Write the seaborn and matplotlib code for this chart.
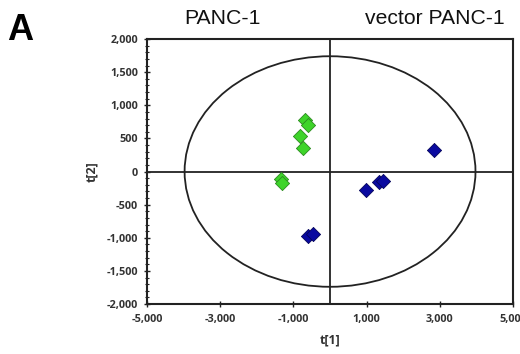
import numpy as np
import pandas as pd
import matplotlib
matplotlib.use("Agg")
import matplotlib.pyplot as plt
import seaborn as sns
from matplotlib.patches import Ellipse
from matplotlib.ticker import FuncFormatter, MultipleLocator

# Data (scores)
group = ["PANC-1"] * 6 + ["vector PANC-1"] * 6
t1 = [-674, -610, -810, -741, -1341, -1314,
      2853, 990, 1336, 1445, -610, -464]
t2 = [777, 702, 541, 360, -113, -169,
      325, -279, -154, -139, -974, -943]
df = pd.DataFrame({"t[1]": t1, "t[2]": t2, "group": group})

x_ticks = [-5000, -3000, -1000, 1000, 3000, 5000]
y_ticks = [-2000, -1500, -1000, -500, 0, 500, 1000, 1500, 2000]
ellipse_w, ellipse_h = 3973, 1740  # Hotelling T2 semi-axes

sns.set_style("white")
plt.rcParams["font.family"] = ["Open Sans", "DejaVu Sans"]

fig = plt.figure(figsize=(5.2, 3.54), dpi=100)
ax = fig.add_axes([0.2827, 0.1412, 0.704, 0.7486])

palette = {"PANC-1": "#3ed42a", "vector PANC-1": "#0a0aa0"}
edges = {"PANC-1": "#2a8a1e", "vector PANC-1": "#05055a"}
for g in ["PANC-1", "vector PANC-1"]:
    sub = df[df.group == g]
    sns.scatterplot(data=sub, x="t[1]", y="t[2]", ax=ax, marker="D", s=52,
                    color=palette[g], edgecolor=edges[g], linewidth=0.6,
                    legend=False, zorder=3)

ax.axhline(0, color="#222222", lw=1.3, zorder=1)
ax.axvline(0, color="#222222", lw=1.3, zorder=1)
ax.add_patch(Ellipse((0, 0), 2 * ellipse_w, 2 * ellipse_h, fill=False,
                     edgecolor="#222222", lw=1.3, zorder=2))

ax.set_xlim(-5000, 5000)
ax.set_ylim(-2000, 2000)
ax.set_xticks(x_ticks)
ax.set_yticks(y_ticks)
ax.yaxis.set_minor_locator(MultipleLocator(100))
fmt = FuncFormatter(lambda v, p: f"{int(v):,}")
ax.xaxis.set_major_formatter(fmt)
ax.yaxis.set_major_formatter(fmt)
ax.tick_params(axis="both", which="major", direction="inout", length=5,
               width=1.0, labelsize=7.8, color="#222222",
               bottom=True, left=True)
ax.tick_params(axis="x", which="major", pad=5)
ax.tick_params(axis="y", which="major", pad=4)
ax.tick_params(axis="y", which="minor", direction="inout", length=3,
               width=0.8, left=True, color="#222222")
for lab in ax.get_xticklabels() + ax.get_yticklabels():
    lab.set_fontweight("bold")
    lab.set_color("#333333")

for s in ax.spines.values():
    s.set_linewidth(1.5)
    s.set_color("#222222")

ax.set_xlabel("t[1]", fontsize=9, fontweight="bold", color="#333333", labelpad=6)
ax.set_ylabel("t[2]", fontsize=9, fontweight="bold", color="#333333", labelpad=6)

fig.text(222 / 520, 1 - 18 / 354, "PANC-1", ha="center", va="center",
         fontsize=15.3, family=["Liberation Sans", "DejaVu Sans"], color="#111111")
fig.text(435 / 520, 1 - 18 / 354, "vector PANC-1", ha="center", va="center",
         fontsize=15.2, family=["Liberation Sans", "DejaVu Sans"], color="#111111")
fig.text(7 / 520, 1 - 30 / 354, "A", ha="left", va="center", fontsize=26,
         fontweight="bold", family=["Liberation Sans", "DejaVu Sans"], color="#000000")

fig.savefig("out.png", dpi=100)
